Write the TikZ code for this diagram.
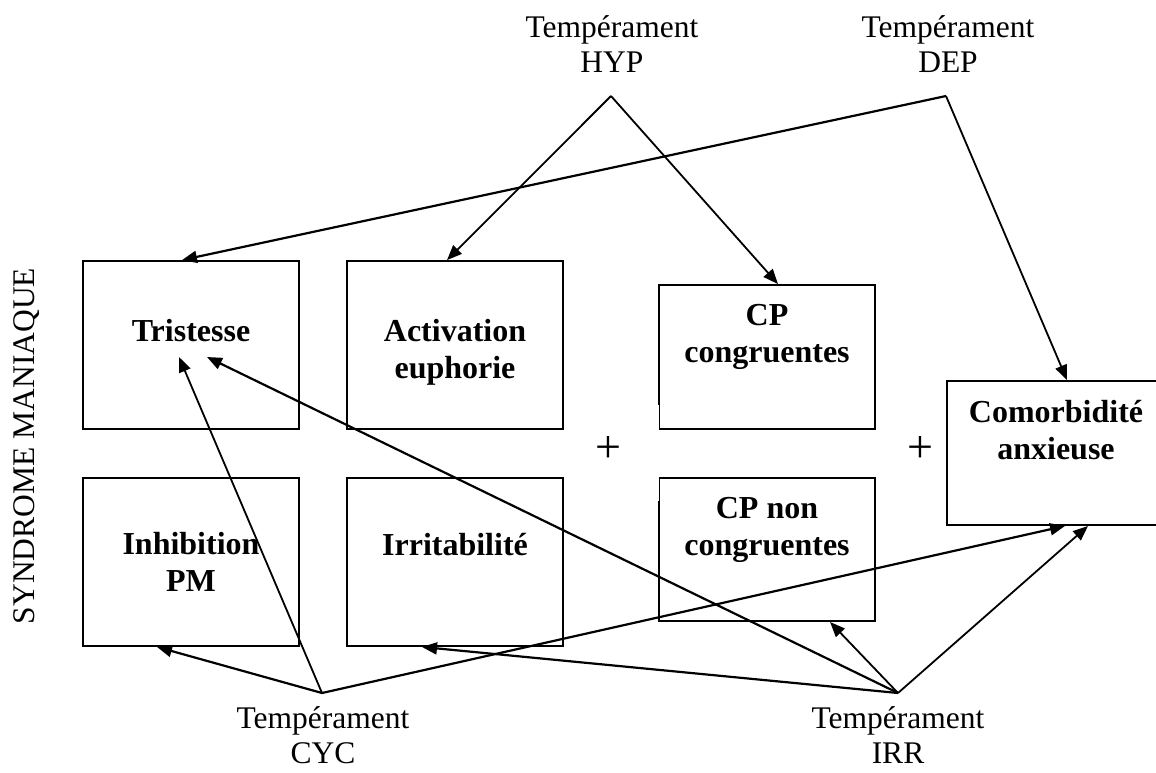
\documentclass[tikz,border=0pt]{standalone}
\usepackage{fontspec}
\setmainfont{Liberation Serif}
\usetikzlibrary{arrows.meta,calc}
\begin{document}
\begin{tikzpicture}[x=1pt,y=-1pt,
  box/.style={draw, line width=1.9pt, inner sep=0pt},
  boxtxt/.style={inner sep=0pt, anchor=north, align=center, font=\fontsize{32}{37}\selectfont\bfseries},
  lab/.style={inner sep=0pt, anchor=north, align=center, font=\fontsize{31.5}{35}\selectfont},
  plus/.style={inner sep=0pt, font=\fontsize{46}{50}\selectfont},
  arr/.style={-{Triangle[length=15pt,width=12pt]}, line width=2.2pt},
  arrthin/.style={-{Triangle[length=15pt,width=12pt]}, line width=1.8pt}
]
\useasboundingbox (0,0) rectangle (1156,772);
\clip (0,0) rectangle (1156,772);
\fill[white] (0,0) rectangle (1156,772);

\node[rotate=90, inner sep=0pt, font=\fontsize{31.5}{36}\selectfont] (synd) at (27,446) {SYNDROME MANIAQUE};

% boxes
\node[box, minimum width=216pt, minimum height=168pt] (tri) at (191,345) {};
\node[box, minimum width=216pt, minimum height=168pt] (act) at (455,345) {};
\node[box, minimum width=216pt, minimum height=144pt] (cpc) at (767,357) {};
\node[box, minimum width=216pt, minimum height=168pt] (inh) at (191,562) {};
\node[box, minimum width=216pt, minimum height=168pt] (irr) at (455,562) {};
\node[box, minimum width=216pt, minimum height=143pt] (cpn) at (767,549.5) {};
\node[box, minimum width=219pt, minimum height=144pt] (com) at (1056.5,453) {};

% small breaks in the left edges of the CP boxes
\draw[white, line width=2.6pt] ($(cpc.south west)+(0,-25)$) -- ($(cpc.south west)+(0,1.5)$);
\draw[white, line width=2.6pt] ($(cpn.north west)+(0,-1.5)$) -- ($(cpn.north west)+(0,24)$);

% box texts
\node[boxtxt] (tri-t) at (191,319) {Tristesse};
\node[boxtxt] (act-t) at (455,319) {Activation\\euphorie};
\node[boxtxt] (cpc-t) at (767,304) {CP\\congruentes};
\node[boxtxt] (inh-t) at (191,532) {Inhibition\\PM};
\node[boxtxt] (irr-t) at (455,533.5) {Irritabilité};
\node[boxtxt] (cpn-t) at (767,497) {CP non\\congruentes};
\node[boxtxt] (com-t) at (1056,400.5) {Comorbidité\\anxieuse};

% temperament labels
\node[lab] (hyp-t) at (612,15) {Tempérament\\HYP};
\node[lab] (dep-t) at (948,15) {Tempérament\\DEP};
\node[lab] (cyc-t) at (323,706.5) {Tempérament\\CYC};
\node[lab] (irr-l) at (898,706.5) {Tempérament\\IRR};

\coordinate (hyp) at (611,96);
\coordinate (dep) at (946,96);
\coordinate (cyc) at (322,693);
\coordinate (irrp) at (898,693);

% plus signs
\node[plus] (p1) at (608,449) {+};
\node[plus] (p2) at (920,449) {+};

% connectors
\draw[arrthin] (hyp) -- ($(act.north)+(-8,0)$);
\draw[arrthin] (hyp) -- ($(cpc.north)+(11,0)$);
\draw[arr] (dep) -- ($(tri.north)+(-9,0)$);
\draw[arrthin] (dep) -- ($(com.north)+(10.5,0)$);
\draw[arr] (cyc) -- ($(inh.south)+(-34,0)$);
\draw[arrthin] (cyc) -- ($(tri.center)+(-12,12)$);
\draw[arr] (cyc) -- ($(com.south)+(8.5,0)$);
\draw[arr] (irrp) -- ($(tri.center)+(16,12)$);
\draw[arr] (irrp) -- ($(irr.south)+(-33,0)$);
\draw[arrthin] (irrp) -- ($(cpn.south)+(63,0)$);
\draw[arrthin] (irrp) -- ($(com.south)+(31.5,0)$);
\end{tikzpicture}
\end{document}
